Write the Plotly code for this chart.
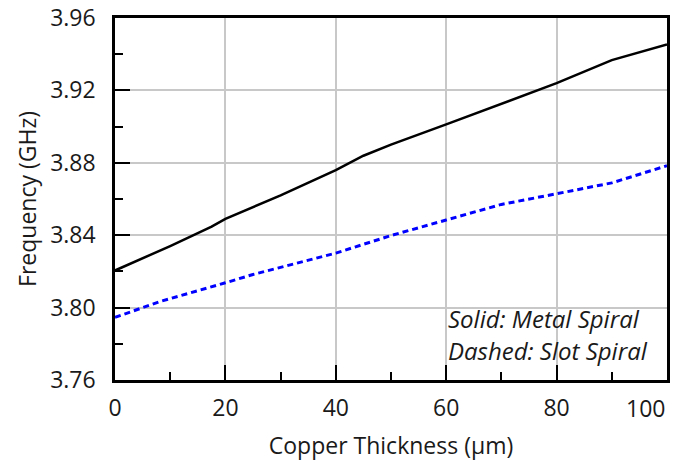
import plotly.graph_objects as go

# Data
solid_x = [0, 10, 17.5, 20, 30, 40, 45, 50, 60, 70, 80, 90, 100]
solid_y = [3.8205, 3.834, 3.8447, 3.849, 3.862, 3.876, 3.8839, 3.890, 3.9012, 3.9126, 3.924, 3.9367, 3.9454]

dashed_x = [0, 8, 20, 25, 40, 50, 60, 70, 80, 90, 100]
dashed_y = [3.7946, 3.8032, 3.8137, 3.8183, 3.8301, 3.8398, 3.8484, 3.857, 3.8629, 3.8689, 3.8784]

x_ticks = [0, 20, 40, 60, 80, 100]
x_ticklabels = ["0", "20", "40", "60", "80", "100"]
y_ticks = [3.76, 3.80, 3.84, 3.88, 3.92, 3.96]
y_ticktext = ["3.76", "3.80", "3.84", "3.88", "3.92", "3.96"]

FONT = "Open Sans"
TXT = "#1a1a1a"
TICK_SIZE = 23

fig = go.Figure()
fig.add_trace(go.Scatter(x=solid_x, y=solid_y, mode="lines",
                         line=dict(color="black", width=2.5), showlegend=False))
fig.add_trace(go.Scatter(x=dashed_x, y=dashed_y, mode="lines",
                         line=dict(color="#0000ff", width=3, dash="6px,4px"), showlegend=False))

axis_common = dict(
    showline=True, linecolor="black", linewidth=2.5, mirror=True,
    ticks="inside", ticklen=15, tickwidth=2, tickcolor="black",
    showgrid=True, gridcolor="#c8c8c8", gridwidth=2,
    zeroline=False, ticklabeloverflow="allow", automargin=False,
    tickfont=dict(family=FONT, size=TICK_SIZE, color=TXT),
    title_font=dict(family=FONT, size=23, color=TXT),
)

# last x label is drawn right-aligned at the axis end (as in the reference)
x_ticktext = x_ticklabels[:-1] + [""]

fig.update_xaxes(**axis_common, range=[0, 100], tickvals=x_ticks, ticktext=x_ticktext,
                 minor=dict(ticks="inside", ticklen=8, tickwidth=2, tickcolor="black",
                            dtick=10, tick0=0, showgrid=False),
                 title_text="Copper Thickness (µm)", title_standoff=16,
                 ticklabelstandoff=6)
fig.update_yaxes(**axis_common, range=[3.76, 3.96], tickvals=y_ticks, ticktext=y_ticktext,
                 minor=dict(ticks="inside", ticklen=8, tickwidth=2, tickcolor="black",
                            dtick=0.02, tick0=3.76, showgrid=False),
                 title_text="Frequency (GHz)", title_standoff=8,
                 ticklabelstandoff=12)

fig.add_annotation(xref="x", yref="paper", x=x_ticks[-1], y=0,
                   text=x_ticklabels[-1], showarrow=False,
                   xanchor="right", yanchor="middle", yshift=-28,
                   font=dict(family=FONT, size=TICK_SIZE, color=TXT))

fig.add_annotation(xref="paper", yref="paper", x=0.600, y=0.169,
                   text="<i>Solid: Metal Spiral</i>", showarrow=False,
                   xanchor="left", yanchor="middle",
                   font=dict(family=FONT, size=24, color=TXT))
fig.add_annotation(xref="paper", yref="paper", x=0.600, y=0.082,
                   text="<i>Dashed: Slot Spiral</i>", showarrow=False,
                   xanchor="left", yanchor="middle",
                   font=dict(family=FONT, size=24, color=TXT))

fig.update_layout(
    width=678, height=464,
    margin=dict(l=115, r=11, t=18, b=84),
    plot_bgcolor="white", paper_bgcolor="white",
)

fig.write_html("out.html")
